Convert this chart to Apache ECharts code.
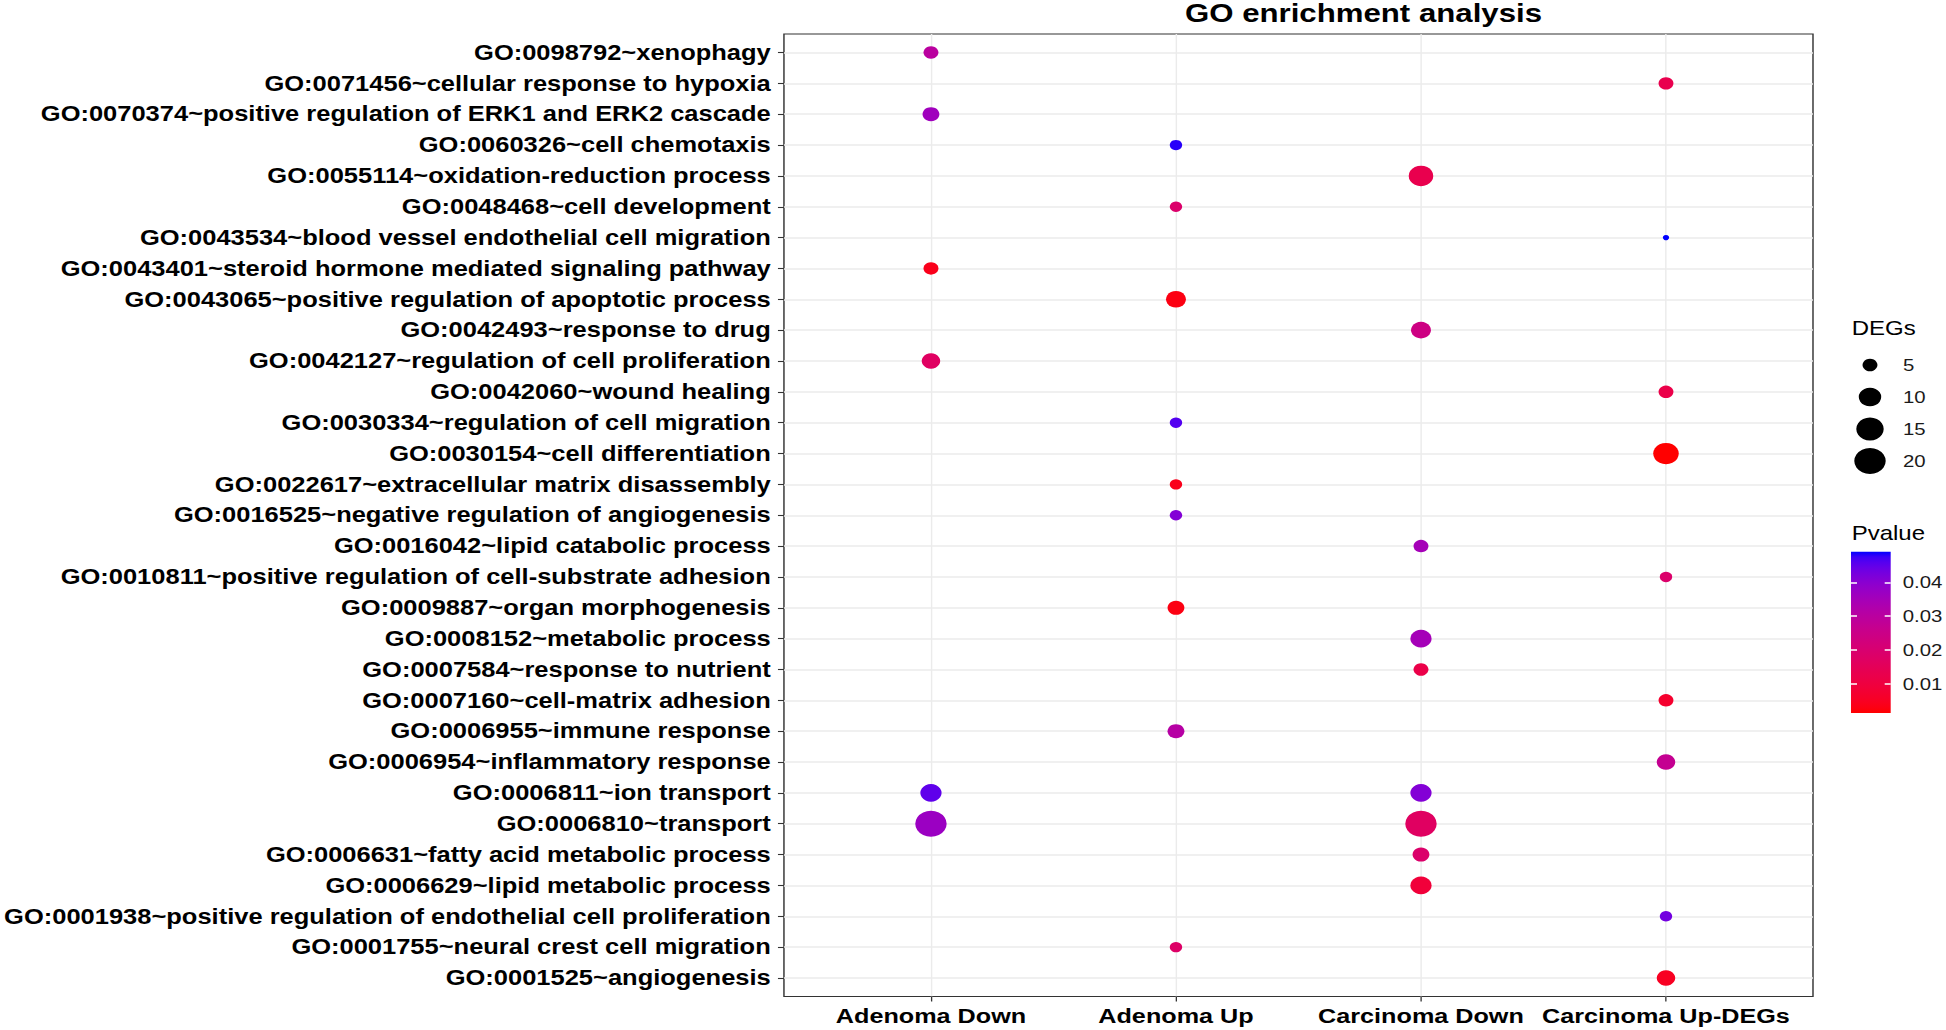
<!DOCTYPE html>
<html><head><meta charset="utf-8">
<script src="https://cdn.jsdelivr.net/npm/echarts@6/dist/echarts.min.js"></script>
<style>
html,body{margin:0;padding:0;background:#fff;overflow:hidden}
#wrap{width:1946px;height:1030px;overflow:hidden;position:relative;background:#fff}
#chart{width:1622px;height:1030px;transform:scaleX(1.19975);transform-origin:0 0}
</style></head>
<body><div id="wrap"><div id="chart"></div></div>
<script>
// ---------------- data ----------------
const terms = [
  'GO:0098792~xenophagy',
  'GO:0071456~cellular response to hypoxia',
  'GO:0070374~positive regulation of ERK1 and ERK2 cascade',
  'GO:0060326~cell chemotaxis',
  'GO:0055114~oxidation-reduction process',
  'GO:0048468~cell development',
  'GO:0043534~blood vessel endothelial cell migration',
  'GO:0043401~steroid hormone mediated signaling pathway',
  'GO:0043065~positive regulation of apoptotic process',
  'GO:0042493~response to drug',
  'GO:0042127~regulation of cell proliferation',
  'GO:0042060~wound healing',
  'GO:0030334~regulation of cell migration',
  'GO:0030154~cell differentiation',
  'GO:0022617~extracellular matrix disassembly',
  'GO:0016525~negative regulation of angiogenesis',
  'GO:0016042~lipid catabolic process',
  'GO:0010811~positive regulation of cell-substrate adhesion',
  'GO:0009887~organ morphogenesis',
  'GO:0008152~metabolic process',
  'GO:0007584~response to nutrient',
  'GO:0007160~cell-matrix adhesion',
  'GO:0006955~immune response',
  'GO:0006954~inflammatory response',
  'GO:0006811~ion transport',
  'GO:0006810~transport',
  'GO:0006631~fatty acid metabolic process',
  'GO:0006629~lipid metabolic process',
  'GO:0001938~positive regulation of endothelial cell proliferation',
  'GO:0001755~neural crest cell migration',
  'GO:0001525~angiogenesis'
];
const groups = ['Adenoma Down', 'Adenoma Up', 'Carcinoma Down', 'Carcinoma Up-DEGs'];

const dotTerms = [
  'GO:0098792','GO:0071456','GO:0070374','GO:0060326','GO:0055114','GO:0048468',
  'GO:0043534','GO:0043401','GO:0043065','GO:0042493','GO:0042127','GO:0042060',
  'GO:0030334','GO:0030154','GO:0022617','GO:0016525','GO:0016042','GO:0010811',
  'GO:0009887','GO:0008152','GO:0007584','GO:0007160','GO:0006955','GO:0006954',
  'GO:0006811','GO:0006811','GO:0006810','GO:0006810','GO:0006631','GO:0006629',
  'GO:0001938','GO:0001755','GO:0001525'
];
const dotGroups = [
  'Adenoma Down','Carcinoma Up-DEGs','Adenoma Down','Adenoma Up','Carcinoma Down','Adenoma Up',
  'Carcinoma Up-DEGs','Adenoma Down','Adenoma Up','Carcinoma Down','Adenoma Down','Carcinoma Up-DEGs',
  'Adenoma Up','Carcinoma Up-DEGs','Adenoma Up','Adenoma Up','Carcinoma Down','Carcinoma Up-DEGs',
  'Adenoma Up','Carcinoma Down','Carcinoma Down','Carcinoma Up-DEGs','Adenoma Up','Carcinoma Up-DEGs',
  'Adenoma Down','Carcinoma Down','Adenoma Down','Carcinoma Down','Carcinoma Down','Carcinoma Down',
  'Carcinoma Up-DEGs','Adenoma Up','Carcinoma Up-DEGs'
];
const dotDEGs = [
  5, 5, 6, 4, 12, 4,
  3, 5, 8, 8, 7, 5,
  4, 13, 4, 4, 5, 4,
  6, 9, 5, 5, 6, 7,
  9, 9, 20, 20, 6, 9,
  4, 4, 7
];
const dotPvalues = [
  0.030, 0.013, 0.036, 0.048, 0.013, 0.019,
  0.049, 0.004, 0.003, 0.024, 0.017, 0.012,
  0.046, 0.0015, 0.004, 0.041, 0.035, 0.019,
  0.003, 0.035, 0.012, 0.007, 0.031, 0.027,
  0.045, 0.041, 0.037, 0.017, 0.019, 0.009,
  0.043, 0.018, 0.005
];
const sizeLegendValues = [5, 10, 15, 20];
const pvalueTicks = [0.01, 0.02, 0.03, 0.04];

// ---------------- helpers ----------------
const SX = 1946 / 1622;              // horizontal stretch of the original figure
const px = x => x / SX;              // full-width x -> pre-stretch x
const FONT = "'Liberation Sans', Arial, sans-serif";

function sizeOf(v) { return 5.3 + 5.06 * Math.sqrt(Math.max(v - 3, 0)); }

// Lab interpolation red -> blue (like ggplot2 scale_colour_gradient)
function toLin(c) { c /= 255; return c <= 0.04045 ? c / 12.92 : Math.pow((c + 0.055) / 1.055, 2.4); }
function fromLin(c) { c = c <= 0.0031308 ? 12.92 * c : 1.055 * Math.pow(c, 1 / 2.4) - 0.055; return Math.round(Math.max(0, Math.min(1, c)) * 255); }
function rgb2lab(r, g, b) {
  const R = toLin(r), G = toLin(g), B = toLin(b);
  const X = (0.4124 * R + 0.3576 * G + 0.1805 * B) / 0.95047;
  const Y = (0.2126 * R + 0.7152 * G + 0.0722 * B);
  const Z = (0.0193 * R + 0.1192 * G + 0.9505 * B) / 1.08883;
  const f = t => t > 0.008856 ? Math.cbrt(t) : 7.787 * t + 16 / 116;
  const fx = f(X), fy = f(Y), fz = f(Z);
  return [116 * fy - 16, 500 * (fx - fy), 200 * (fy - fz)];
}
function lab2hex(L, a, b) {
  const fy = (L + 16) / 116, fx = fy + a / 500, fz = fy - b / 200;
  const inv = f => { const f3 = f * f * f; return f3 > 0.008856 ? f3 : (f - 16 / 116) / 7.787; };
  const X = inv(fx) * 0.95047, Y = inv(fy), Z = inv(fz) * 1.08883;
  const R = 3.2406 * X - 1.5372 * Y - 0.4986 * Z;
  const G = -0.9689 * X + 1.8758 * Y + 0.0415 * Z;
  const B = 0.0557 * X - 0.2040 * Y + 1.0570 * Z;
  return '#' + [R, G, B].map(c => fromLin(c).toString(16).padStart(2, '0')).join('');
}
const labLow = rgb2lab(255, 0, 0), labHigh = rgb2lab(0, 0, 255);
const NSTOP = 31;
const palette = [];
for (let i = 0; i < NSTOP; i++) {
  const t = i / (NSTOP - 1);
  palette.push(lab2hex(labLow[0] + (labHigh[0] - labLow[0]) * t,
                       labLow[1] + (labHigh[1] - labLow[1]) * t,
                       labLow[2] + (labHigh[2] - labLow[2]) * t));
}
const pMin = Math.min(...dotPvalues), pMax = Math.max(...dotPvalues);

const dots = dotTerms.map((id, i) => [
  groups.indexOf(dotGroups[i]),
  terms.findIndex(t => t.startsWith(id + '~')),
  dotDEGs[i],
  dotPvalues[i]
]);

// ---------------- chart ----------------
const chart = echarts.init(document.getElementById('chart'), null, { renderer: 'svg', width: 1622, height: 1030 });

const gridColor = '#EBEBEB';
const option = {
  animation: false,
  backgroundColor: '#ffffff',
  textStyle: { fontFamily: FONT },
  title: [
    { text: 'GO enrichment analysis', left: px(1363.5), textAlign: 'center', top: 0, padding: 0,
      textStyle: { fontSize: 26, fontWeight: 'bold', color: '#000', fontFamily: FONT } },
    { text: 'DEGs', left: px(1851.7), top: 318, padding: 0,
      textStyle: { fontSize: 20, fontWeight: 'normal', color: '#000', fontFamily: FONT } },
    { text: 'Pvalue', left: px(1851.7), top: 523, padding: 0,
      textStyle: { fontSize: 20, fontWeight: 'normal', color: '#000', fontFamily: FONT } }
  ],
  grid: [
    { left: px(782.8), right: 1622 - px(1813), top: 34, bottom: 1030 - 996.5,
      show: true, borderColor: '#333333', borderWidth: 1.2, backgroundColor: 'transparent', containLabel: false },
    { left: px(1851), top: 551.7, width: px(1891) - px(1851), height: 161.3,
      show: true, borderWidth: 0,
      backgroundColor: { type: 'linear', x: 0, y: 1, x2: 0, y2: 0,
        colorStops: palette.map((c, i) => ({ offset: i / (palette.length - 1), color: c })) } },
    { left: px(1870) - 15, top: 349, width: 30, height: 128, show: false }
  ],
  visualMap: {
    type: 'continuous', show: false, seriesIndex: 0, dimension: 3,
    min: pMin, max: pMax, inRange: { color: palette }
  },
  xAxis: [
    { gridIndex: 0, type: 'value', min: -0.6, max: groups.length - 0.4, position: 'bottom',
      axisLine: { show: false, onZero: false },
      axisTick: { show: true, customValues: groups.map((g, i) => i), length: 5,
        lineStyle: { color: '#333333', width: 1.1 } },
      axisLabel: { show: true, customValues: groups.map((g, i) => i), formatter: v => groups[Math.round(v)],
        fontSize: 21, fontWeight: 'bold', color: '#000', margin: 9, fontFamily: FONT },
      splitLine: { show: true, lineStyle: { color: gridColor, width: 1.2 } } },
    { gridIndex: 1, type: 'value', show: false, min: 0, max: 1 },
    { gridIndex: 2, type: 'value', show: false, min: 0, max: 1 }
  ],
  yAxis: [
    { gridIndex: 0, type: 'value', inverse: true, min: -0.6, max: terms.length - 0.4, position: 'left',
      axisLine: { show: false, onZero: false },
      axisTick: { show: true, customValues: terms.map((t, i) => i), length: 5,
        lineStyle: { color: '#333333', width: 1.1 } },
      axisLabel: { show: true, customValues: terms.map((t, i) => i), formatter: v => terms[Math.round(v)],
        fontSize: 21.25, fontWeight: 'bold', color: '#000', margin: 11, fontFamily: FONT },
      splitLine: { show: true, lineStyle: { color: gridColor, width: 1.5 } } },
    { gridIndex: 1, type: 'value', position: 'right', min: pMin, max: pMax,
      axisLine: { show: false, onZero: false },
      axisTick: { show: true, inside: true, length: 5, customValues: pvalueTicks,
        lineStyle: { color: '#ffffff', width: 1.5 } },
      axisLabel: { show: true, customValues: pvalueTicks, formatter: v => v.toFixed(2),
        fontSize: 17, color: '#1a1a1a', margin: 10, fontFamily: FONT },
      splitLine: { show: false } },
    { gridIndex: 1, type: 'value', position: 'left', min: pMin, max: pMax,
      axisLine: { show: false, onZero: false },
      axisTick: { show: true, inside: true, length: 5, customValues: pvalueTicks,
        lineStyle: { color: '#ffffff', width: 1.5 } },
      axisLabel: { show: false }, splitLine: { show: false } },
    { gridIndex: 2, type: 'category', inverse: true, position: 'right',
      data: sizeLegendValues.map(String),
      axisLine: { show: false, onZero: false }, axisTick: { show: false }, splitLine: { show: false },
      axisLabel: { show: true, fontSize: 17, color: '#1a1a1a', margin: px(1903) - (px(1870) + 15), fontFamily: FONT } }
  ],
  series: [
    { type: 'scatter', xAxisIndex: 0, yAxisIndex: 0, data: dots,
      symbol: 'circle', symbolSize: val => sizeOf(val[2]),
      itemStyle: { opacity: 1 }, z: 5 },
    { type: 'scatter', xAxisIndex: 2, yAxisIndex: 3,
      data: sizeLegendValues.map((v, i) => [0.5, i, v]),
      symbol: 'circle', symbolSize: val => sizeOf(val[2]),
      itemStyle: { color: '#000', opacity: 1 }, silent: true }
  ]
};
chart.setOption(option);
</script>
</body></html>
